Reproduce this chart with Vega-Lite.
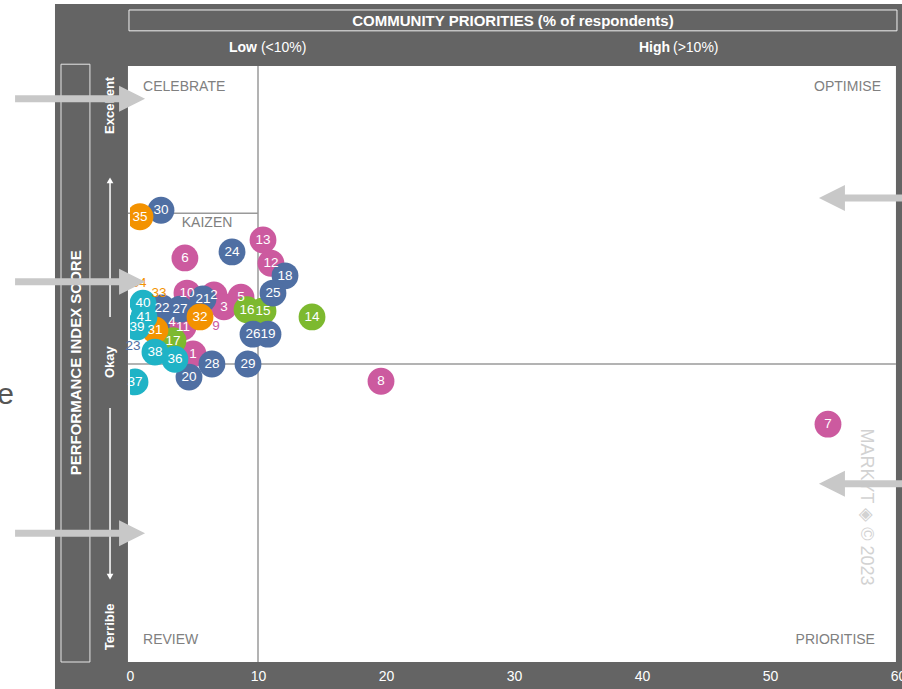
{
  "$schema": "https://vega.github.io/schema/vega-lite/v6.json",
  "width": 768,
  "height": 596,
  "autosize": {"type": "none"},
  "padding": {"left": 130, "top": 66, "right": 4, "bottom": 27},
  "background": "white",
  "config": {
    "font": "Liberation Sans",
    "view": {"stroke": null},
    "axisY": {"disable": true},
    "axisX": {"grid": false, "ticks": false, "tickSize": 0, "domain": false, "labelColor": "white", "labelFontSize": 14, "labelPadding": 7, "labelFlush": false, "labelOverlap": false, "titleOpacity": 0, "zindex": 1}
  },
  "data": {"values": [{}]},
  "datasets": {
    "points": [
      {"id": "1", "group": "pink", "kind": "bubble", "x": 4.92, "y": 51.7},
      {"id": "2", "group": "pink", "kind": "bubble", "x": 6.56, "y": 61.6},
      {"id": "3", "group": "pink", "kind": "bubble", "x": 7.34, "y": 59.6},
      {"id": "4", "group": "blue", "kind": "bubble", "x": 3.28, "y": 57.0},
      {"id": "5", "group": "pink", "kind": "bubble", "x": 8.67, "y": 61.2},
      {"id": "6", "group": "pink", "kind": "bubble", "x": 4.29, "y": 67.8},
      {"id": "7", "group": "pink", "kind": "bubble", "x": 54.53, "y": 39.9},
      {"id": "8", "group": "pink", "kind": "bubble", "x": 19.61, "y": 47.1},
      {"id": "9", "group": "pink", "kind": "label", "x": 6.72, "y": 56.4},
      {"id": "10", "group": "pink", "kind": "bubble", "x": 4.45, "y": 61.9},
      {"id": "11", "group": "pink", "kind": "bubble", "x": 4.14, "y": 56.2},
      {"id": "12", "group": "pink", "kind": "bubble", "x": 11.01, "y": 66.9},
      {"id": "13", "group": "pink", "kind": "bubble", "x": 10.39, "y": 70.8},
      {"id": "14", "group": "green", "kind": "bubble", "x": 14.22, "y": 57.9},
      {"id": "15", "group": "green", "kind": "bubble", "x": 10.39, "y": 58.9},
      {"id": "16", "group": "green", "kind": "bubble", "x": 9.14, "y": 59.1},
      {"id": "17", "group": "green", "kind": "bubble", "x": 3.36, "y": 53.9},
      {"id": "18", "group": "blue", "kind": "bubble", "x": 12.11, "y": 64.8},
      {"id": "19", "group": "blue", "kind": "bubble", "x": 10.78, "y": 55.0},
      {"id": "20", "group": "blue", "kind": "bubble", "x": 4.61, "y": 47.8},
      {"id": "21", "group": "blue", "kind": "bubble", "x": 5.7, "y": 60.9},
      {"id": "22", "group": "blue", "kind": "bubble", "x": 2.5, "y": 59.4},
      {"id": "23", "group": "blue", "kind": "label", "x": 0.23, "y": 53.0},
      {"id": "24", "group": "blue", "kind": "bubble", "x": 7.97, "y": 68.8},
      {"id": "25", "group": "blue", "kind": "bubble", "x": 11.17, "y": 61.9},
      {"id": "26", "group": "blue", "kind": "bubble", "x": 9.61, "y": 55.0},
      {"id": "27", "group": "blue", "kind": "bubble", "x": 3.9, "y": 59.2},
      {"id": "28", "group": "blue", "kind": "bubble", "x": 6.4, "y": 50.0},
      {"id": "29", "group": "blue", "kind": "bubble", "x": 9.22, "y": 50.0},
      {"id": "30", "group": "blue", "kind": "bubble", "x": 2.42, "y": 75.8},
      {"id": "31", "group": "orange", "kind": "bubble", "x": 1.95, "y": 55.7},
      {"id": "32", "group": "orange", "kind": "bubble", "x": 5.47, "y": 57.9},
      {"id": "33", "group": "orange", "kind": "label", "x": 2.26, "y": 61.9},
      {"id": "34", "group": "orange", "kind": "label", "x": 0.7, "y": 63.6},
      {"id": "35", "group": "orange", "kind": "bubble", "x": 0.78, "y": 74.7},
      {"id": "36", "group": "cyan", "kind": "bubble", "x": 3.51, "y": 50.8},
      {"id": "37", "group": "cyan", "kind": "bubble", "x": 0.39, "y": 47.0},
      {"id": "38", "group": "cyan", "kind": "bubble", "x": 1.95, "y": 52.0},
      {"id": "39", "group": "cyan", "kind": "bubble", "x": 0.54, "y": 56.2},
      {"id": "40", "group": "cyan", "kind": "bubble", "x": 1.01, "y": 60.2},
      {"id": "41", "group": "cyan", "kind": "bubble", "x": 1.09, "y": 57.9}
    ]
  },
  "layer": [
    {"mark": {"type": "rect", "color": "#646464"},
     "encoding": {"x": {"datum": -5.86, "type": "quantitative", "scale": {"domain": [0, 60]}, "axis": {"values": [0, 10, 20, 30, 40, 50, 60], "zindex": 1, "labelOverlap": false}}, "x2": {"datum": 62}, "y": {"datum": -6, "type": "quantitative", "scale": {"domain": [0, 100]}}, "y2": {"datum": 110.4}}},
    {"mark": {"type": "rect", "color": "white"},
     "encoding": {"x": {"datum": -0.16, "type": "quantitative"}, "x2": {"datum": 59.84}, "y": {"datum": 0, "type": "quantitative"}, "y2": {"datum": 100}}},
    {"mark": {"type": "rule", "color": "#9a9a9a", "strokeWidth": 1.5},
     "encoding": {"x": {"datum": 10, "type": "quantitative"}, "y": {"datum": 0, "type": "quantitative"}, "y2": {"datum": 100}}},
    {"mark": {"type": "rule", "color": "#9a9a9a", "strokeWidth": 1.5},
     "encoding": {"x": {"datum": -0.16, "type": "quantitative"}, "x2": {"datum": 59.84}, "y": {"datum": 50, "type": "quantitative"}}},
    {"mark": {"type": "rule", "color": "#9a9a9a", "strokeWidth": 1.5},
     "encoding": {"x": {"datum": -0.16, "type": "quantitative"}, "x2": {"datum": 10}, "y": {"datum": 75.3, "type": "quantitative"}}},
    {"mark": {"type": "rect", "fill": null, "fillOpacity": 0, "stroke": "#f0f0f0", "strokeWidth": 1},
     "encoding": {"x": {"datum": -0.08, "type": "quantitative"}, "x2": {"datum": 59.92}, "y": {"datum": 105.9, "type": "quantitative"}, "y2": {"datum": 109.4}}},
    {"mark": {"type": "text", "text": "COMMUNITY PRIORITIES (% of respondents)", "fontWeight": "bold", "fontSize": 15, "color": "white", "align": "center", "baseline": "middle"},
     "encoding": {"x": {"datum": 29.92, "type": "quantitative"}, "y": {"datum": 107.6, "type": "quantitative"}}},
    {"mark": {"type": "text", "text": "Low", "fontWeight": "bold", "fontSize": 14, "color": "white", "align": "right", "baseline": "middle"},
     "encoding": {"x": {"datum": 9.92, "type": "quantitative"}, "y": {"datum": 103.0, "type": "quantitative"}}},
    {"mark": {"type": "text", "text": "(<10%)", "fontSize": 14, "color": "white", "align": "left", "baseline": "middle"},
     "encoding": {"x": {"datum": 10.23, "type": "quantitative"}, "y": {"datum": 103.0, "type": "quantitative"}}},
    {"mark": {"type": "text", "text": "High", "fontWeight": "bold", "fontSize": 14, "color": "white", "align": "right", "baseline": "middle"},
     "encoding": {"x": {"datum": 42.19, "type": "quantitative"}, "y": {"datum": 103.0, "type": "quantitative"}}},
    {"mark": {"type": "text", "text": "(>10%)", "fontSize": 14, "color": "white", "align": "left", "baseline": "middle"},
     "encoding": {"x": {"datum": 42.42, "type": "quantitative"}, "y": {"datum": 103.0, "type": "quantitative"}}},
    {"mark": {"type": "rect", "fill": null, "fillOpacity": 0, "stroke": "#e6e6e6", "strokeWidth": 1},
     "encoding": {"x": {"datum": -5.39, "type": "quantitative"}, "x2": {"datum": -3.13}, "y": {"datum": 0, "type": "quantitative"}, "y2": {"datum": 100.3}}},
    {"mark": {"type": "text", "text": "PERFORMANCE INDEX SCORE", "fontWeight": "bold", "fontSize": 15, "color": "white", "align": "center", "baseline": "middle", "angle": 270},
     "encoding": {"x": {"datum": -4.22, "type": "quantitative"}, "y": {"datum": 50.2, "type": "quantitative"}}},
    {"mark": {"type": "text", "text": "Excellent", "fontWeight": "bold", "fontSize": 13, "color": "white", "align": "center", "baseline": "middle", "angle": 270},
     "encoding": {"x": {"datum": -1.56, "type": "quantitative"}, "y": {"datum": 93.4, "type": "quantitative"}}},
    {"mark": {"type": "text", "text": "Okay", "fontWeight": "bold", "fontSize": 13, "color": "white", "align": "center", "baseline": "middle", "angle": 270},
     "encoding": {"x": {"datum": -1.56, "type": "quantitative"}, "y": {"datum": 50.3, "type": "quantitative"}}},
    {"mark": {"type": "text", "text": "Terrible", "fontWeight": "bold", "fontSize": 13, "color": "white", "align": "center", "baseline": "middle", "angle": 270},
     "encoding": {"x": {"datum": -1.56, "type": "quantitative"}, "y": {"datum": 5.9, "type": "quantitative"}}},
    {"mark": {"type": "rule", "color": "white", "strokeWidth": 1.5},
     "encoding": {"x": {"datum": -1.56, "type": "quantitative"}, "y": {"datum": 57.9, "type": "quantitative"}, "y2": {"datum": 80.5}}},
    {"mark": {"type": "point", "shape": "triangle-up", "filled": true, "size": 45, "color": "white", "opacity": 1},
     "encoding": {"x": {"datum": -1.56, "type": "quantitative"}, "y": {"datum": 80.8, "type": "quantitative"}}},
    {"mark": {"type": "rule", "color": "white", "strokeWidth": 1.5},
     "encoding": {"x": {"datum": -1.56, "type": "quantitative"}, "y": {"datum": 42.6, "type": "quantitative"}, "y2": {"datum": 14.6}}},
    {"mark": {"type": "point", "shape": "triangle-down", "filled": true, "size": 45, "color": "white", "opacity": 1},
     "encoding": {"x": {"datum": -1.56, "type": "quantitative"}, "y": {"datum": 14.3, "type": "quantitative"}}},
    {"mark": {"type": "text", "text": "CELEBRATE", "fontSize": 14, "color": "#808080", "align": "left", "baseline": "middle"},
     "encoding": {"x": {"datum": 1.02, "type": "quantitative"}, "y": {"datum": 96.5, "type": "quantitative"}}},
    {"mark": {"type": "text", "text": "OPTIMISE", "fontSize": 14, "color": "#808080", "align": "right", "baseline": "middle"},
     "encoding": {"x": {"datum": 58.67, "type": "quantitative"}, "y": {"datum": 96.5, "type": "quantitative"}}},
    {"mark": {"type": "text", "text": "REVIEW", "fontSize": 14, "color": "#808080", "align": "left", "baseline": "middle"},
     "encoding": {"x": {"datum": 1.02, "type": "quantitative"}, "y": {"datum": 3.7, "type": "quantitative"}}},
    {"mark": {"type": "text", "text": "PRIORITISE", "fontSize": 14, "color": "#808080", "align": "right", "baseline": "middle"},
     "encoding": {"x": {"datum": 58.2, "type": "quantitative"}, "y": {"datum": 3.7, "type": "quantitative"}}},
    {"mark": {"type": "text", "text": "KAIZEN", "fontSize": 14, "color": "#808080", "align": "center", "baseline": "middle"},
     "encoding": {"x": {"datum": 6.02, "type": "quantitative"}, "y": {"datum": 73.7, "type": "quantitative"}}},
    {"mark": {"type": "text", "text": "MARKYT ◈ © 2023", "fontSize": 18, "color": "#d2d2d2", "align": "center", "baseline": "middle", "angle": 90},
     "encoding": {"x": {"datum": 57.5, "type": "quantitative"}, "y": {"datum": 26.0, "type": "quantitative"}}},
    {"data": {"name": "points"},
     "transform": [{"filter": "datum.kind === 'bubble'"}],
     "mark": {"type": "point", "filled": true, "size": 720, "opacity": 1, "clip": true},
     "encoding": {
       "x": {"field": "x", "type": "quantitative", "title": null, "scale": {"domain": [0, 60]}, "axis": {"values": [0, 10, 20, 30, 40, 50, 60], "zindex": 1, "labelOverlap": false}},
       "y": {"field": "y", "type": "quantitative", "title": null, "scale": {"domain": [0, 100]}},
       "color": {"field": "group", "type": "nominal", "legend": null, "scale": {"domain": ["blue", "pink", "green", "orange", "cyan"], "range": ["#4f6fa3", "#cc5a9f", "#7db92f", "#f39200", "#1fb3c6"]}}
     }},
    {"data": {"name": "points"},
     "transform": [{"filter": "datum.kind === 'bubble'"}],
     "mark": {"type": "text", "fontSize": 13.5, "color": "white", "align": "center", "baseline": "middle"},
     "encoding": {
       "x": {"field": "x", "type": "quantitative"},
       "y": {"field": "y", "type": "quantitative"},
       "text": {"field": "id"}
     }},
    {"data": {"name": "points"},
     "transform": [{"filter": "datum.kind === 'label'"}],
     "mark": {"type": "text", "fontSize": 13.5, "align": "center", "baseline": "middle"},
     "encoding": {
       "x": {"field": "x", "type": "quantitative"},
       "y": {"field": "y", "type": "quantitative"},
       "text": {"field": "id"},
       "color": {"field": "group", "type": "nominal", "legend": null}
     }},
    {"mark": {"type": "rule", "color": "#c8c8c8", "strokeWidth": 7},
     "encoding": {"x": {"datum": -8.98, "type": "quantitative"}, "x2": {"datum": 0.16}, "y": {"datum": 94.5, "type": "quantitative"}}},
    {"mark": {"type": "point", "shape": "M-1,-1L1,0L-1,1Z", "filled": true, "size": 676, "color": "#c8c8c8", "opacity": 1},
     "encoding": {"x": {"datum": 0.16, "type": "quantitative"}, "y": {"datum": 94.5, "type": "quantitative"}}},
    {"mark": {"type": "rule", "color": "#c8c8c8", "strokeWidth": 7},
     "encoding": {"x": {"datum": -8.98, "type": "quantitative"}, "x2": {"datum": 0.16}, "y": {"datum": 63.8, "type": "quantitative"}}},
    {"mark": {"type": "point", "shape": "M-1,-1L1,0L-1,1Z", "filled": true, "size": 676, "color": "#c8c8c8", "opacity": 1},
     "encoding": {"x": {"datum": 0.16, "type": "quantitative"}, "y": {"datum": 63.8, "type": "quantitative"}}},
    {"mark": {"type": "rule", "color": "#c8c8c8", "strokeWidth": 7},
     "encoding": {"x": {"datum": -8.98, "type": "quantitative"}, "x2": {"datum": 0.16}, "y": {"datum": 21.6, "type": "quantitative"}}},
    {"mark": {"type": "point", "shape": "M-1,-1L1,0L-1,1Z", "filled": true, "size": 676, "color": "#c8c8c8", "opacity": 1},
     "encoding": {"x": {"datum": 0.16, "type": "quantitative"}, "y": {"datum": 21.6, "type": "quantitative"}}},
    {"mark": {"type": "rule", "color": "#c8c8c8", "strokeWidth": 7},
     "encoding": {"x": {"datum": 54.84, "type": "quantitative"}, "x2": {"datum": 61}, "y": {"datum": 77.85, "type": "quantitative"}}},
    {"mark": {"type": "point", "shape": "M1,-1L-1,0L1,1Z", "filled": true, "size": 676, "color": "#c8c8c8", "opacity": 1},
     "encoding": {"x": {"datum": 54.84, "type": "quantitative"}, "y": {"datum": 77.85, "type": "quantitative"}}},
    {"mark": {"type": "rule", "color": "#c8c8c8", "strokeWidth": 7},
     "encoding": {"x": {"datum": 54.84, "type": "quantitative"}, "x2": {"datum": 61}, "y": {"datum": 29.9, "type": "quantitative"}}},
    {"mark": {"type": "point", "shape": "M1,-1L-1,0L1,1Z", "filled": true, "size": 676, "color": "#c8c8c8", "opacity": 1},
     "encoding": {"x": {"datum": 54.84, "type": "quantitative"}, "y": {"datum": 29.9, "type": "quantitative"}}},
    {"mark": {"type": "text", "text": "e", "fontSize": 30, "color": "#555555", "align": "right", "baseline": "middle"},
     "encoding": {"x": {"datum": -9.06, "type": "quantitative"}, "y": {"datum": 44.8, "type": "quantitative"}}}
  ]
}
